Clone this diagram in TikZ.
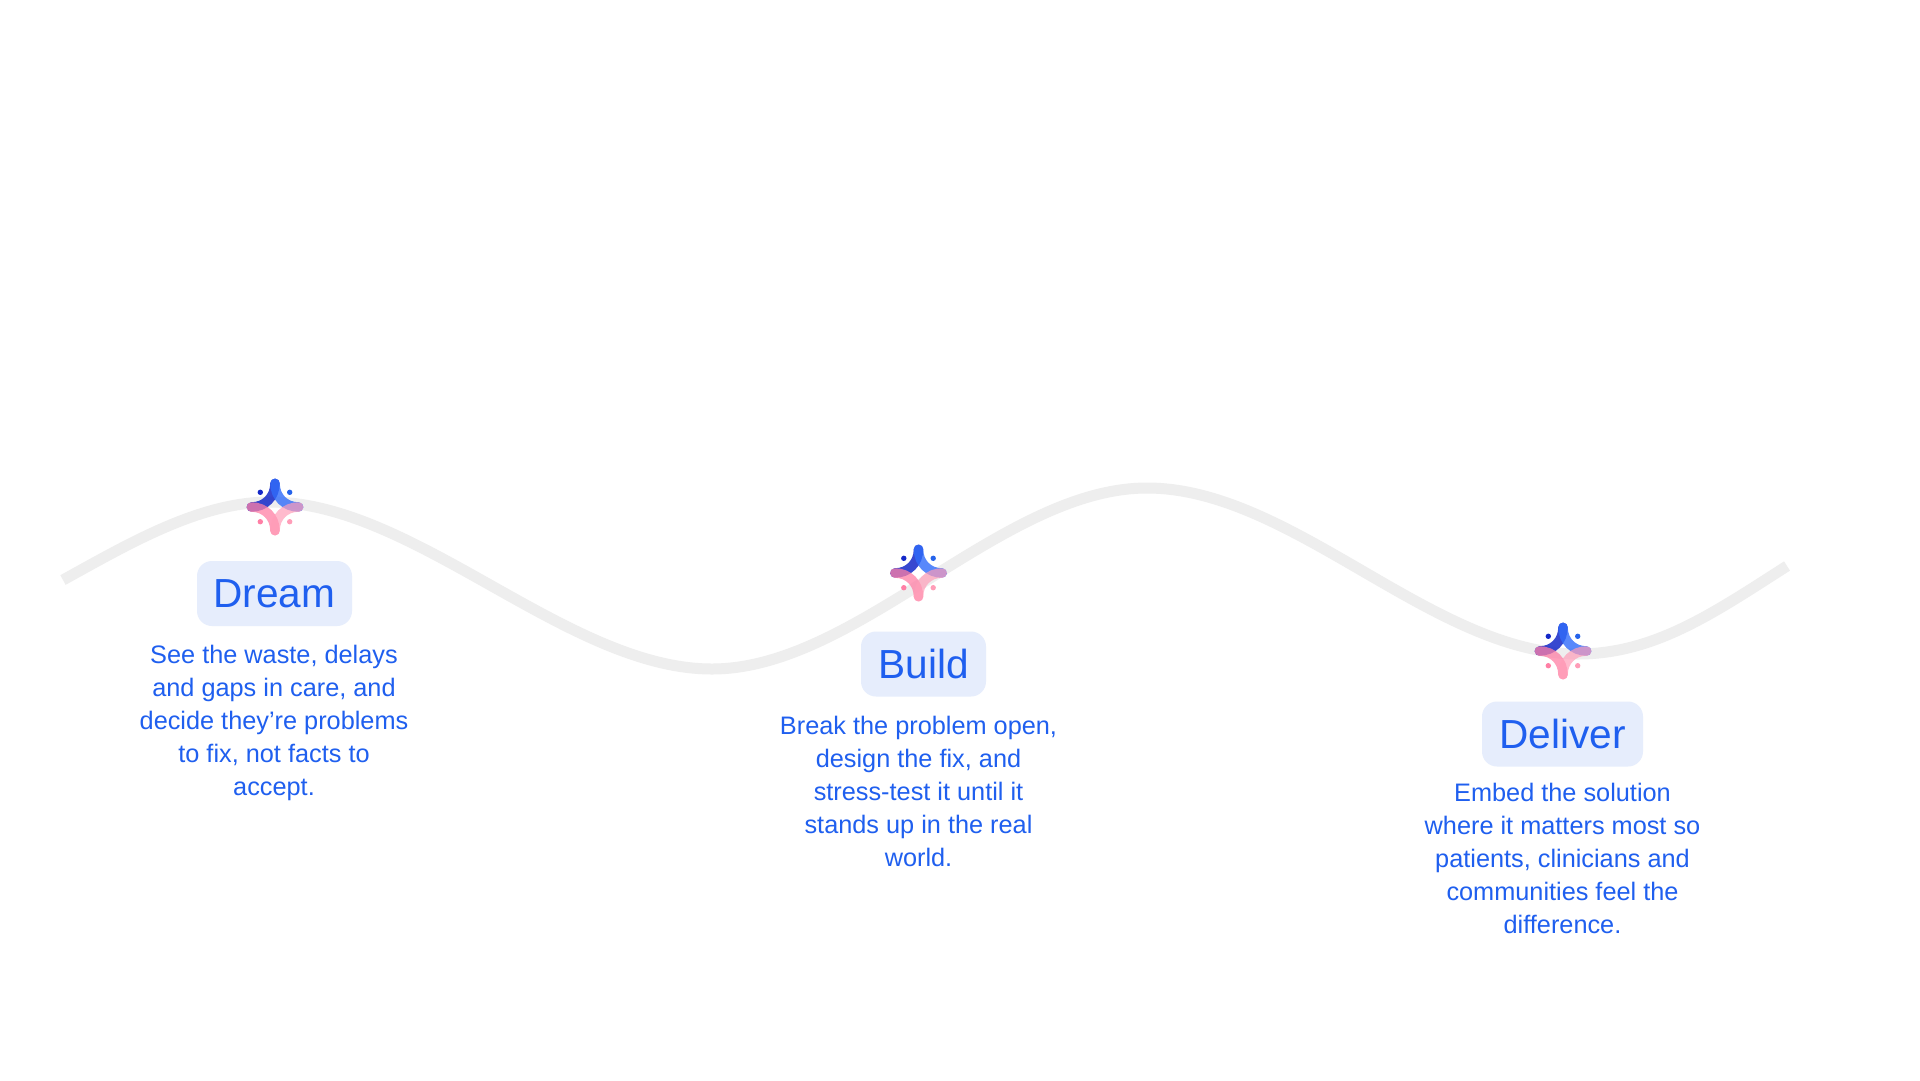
\documentclass[tikz,border=0pt]{standalone}
\usepackage{fontspec}
\setmainfont{Liberation Sans}
\definecolor{wave}{HTML}{EEEEEE}
\definecolor{ink}{HTML}{1F5FEF}
\definecolor{chip}{HTML}{E6EDFC}
\tikzset{
  x=1pt,y=-1pt,
  chipbox/.style={fill=chip,rounded corners=15pt,inner sep=0pt,minimum height=65pt,text=ink,font=\fontsize{40.6}{48}\selectfont},
  bodytext/.style={text=ink,align=center,inner sep=0pt,font=\fontsize{25.3}{33}\selectfont},
  arm/.style={line width=9.5pt,line cap=round},
  pics/spark/.style={code={
    \draw[arm,draw=HTMLa,opacity=.85] (0,-23.7) .. controls (0,-10) and (-10,0) .. (-23.7,0);
    \draw[arm,draw=HTMLb,opacity=.8] (0,-23.7) .. controls (0,-10) and (10,0) .. (23.7,0);
    \draw[arm,draw=HTMLc,opacity=.75] (-23.7,0) .. controls (-10,0) and (0,10) .. (0,23.7);
    \draw[arm,draw=HTMLd,opacity=.7] (23.7,0) .. controls (10,0) and (0,10) .. (0,23.7);
    \fill[HTMLa] (-14.7,-14.7) circle (2.7);
    \fill[HTMLe] (14.7,-14.7) circle (2.7);
    \fill[HTMLc] (-14.7,14.7) circle (2.7);
    \fill[HTMLd] (14.7,14.7) circle (2.7);
  }}
}
\definecolor{HTMLa}{HTML}{1428C8}
\definecolor{HTMLb}{HTML}{2F6BFA}
\definecolor{HTMLc}{HTML}{FF7FA5}
\definecolor{HTMLd}{HTML}{FF9DB8}
\definecolor{HTMLe}{HTML}{2563EB}
\begin{document}
\begin{tikzpicture}
\useasboundingbox (0,0) rectangle (1920,1080);
\fill[white] (0,0) rectangle (1920,1080);
\draw[wave,line width=11pt] (63,580)
  .. controls (130,543) and (200,502) .. (270,502)
  .. controls (415,502) and (567,669) .. (712,669)
  .. controls (857,669) and (1002,488) .. (1147,488)
  .. controls (1292,488) and (1433,654) .. (1578,654)
  .. controls (1655,654) and (1715,612) .. (1787,566);
\pic at (275,507) {spark};
\pic at (918.5,573) {spark};
\pic at (1563,651) {spark};
\node[chipbox,minimum width=155pt] (dream) at (274.5,593.5) {Dream};
\node[chipbox,minimum width=125pt] (build) at (923.5,664) {Build};
\node[chipbox,minimum width=161pt] (deliver) at (1562.5,734) {Deliver};
\node[bodytext] (dreamtext) at (274,722.5) {See the waste, delays\\and gaps in care, and\\decide they’re problems\\to fix, not facts to\\accept.};
\node[bodytext] (buildtext) at (918.5,791.5) {Break the problem open,\\design the fix, and\\stress-test it until it\\stands up in the real\\world.};
\node[bodytext] (delivertext) at (1562.5,858.5) {Embed the solution\\where it matters most so\\patients, clinicians and\\communities feel the\\difference.};
\end{tikzpicture}
\end{document}
